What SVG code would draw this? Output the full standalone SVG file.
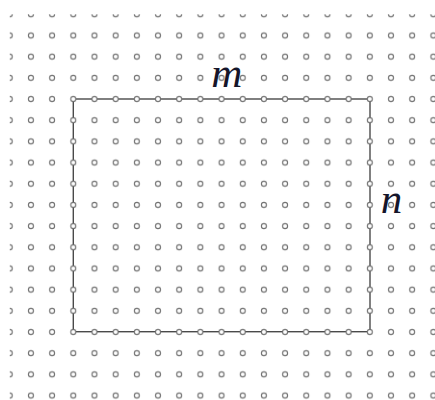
<svg xmlns="http://www.w3.org/2000/svg" width="435" height="400" viewBox="0 0 435 400">
  <style>
    .edge { fill: none; stroke: #4a4a4a; stroke-width: 1.4; }
    .dot { fill: #fff; stroke: #707070; stroke-width: 1.1; }
    .lbl { font-family: "Liberation Serif", "Times New Roman", serif; font-style: italic; font-size: 43px; fill: #15152a; text-anchor: middle; }
  </style>
  <defs>
    <pattern id="dots" patternUnits="userSpaceOnUse" x="-0.83" y="3.71" width="21.18" height="21.18">
      <circle class="dot" cx="10.59" cy="10.59" r="2.5"/>
    </pattern>
  </defs>
  <rect width="435" height="400" fill="#fff"/>
  <g id="connectors">
    <rect class="edge" x="73.3" y="99" width="296.7" height="232.7"/>
  </g>
  <g id="grid">
    <rect x="9.76" y="14.3" width="426" height="386" fill="url(#dots)"/>
  </g>
  <g id="label-m">
    <text class="lbl" x="226.7" y="87">m</text>
  </g>
  <g id="label-n">
    <text class="lbl" x="391.5" y="213">n</text>
  </g>
</svg>
